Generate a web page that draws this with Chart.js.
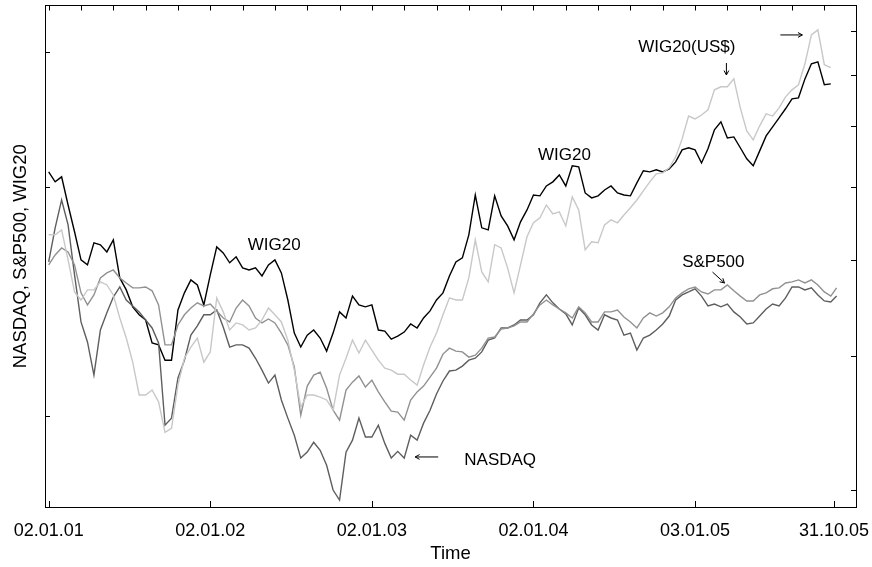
<!DOCTYPE html>
<html>
<head>
<meta charset="utf-8">
<script src="https://cdn.jsdelivr.net/npm/chart.js@4.4.1/dist/chart.umd.min.js"></script>
<style>
html,body{margin:0;padding:0;background:#fff;}
#c{display:block;}
</style>
</head>
<body>
<canvas id="c" width="872" height="567"></canvas>
<script>
// trading-day index of each sample (day 0 = 02.01.01)
const days = [0,10,20,30,40,50,60,70,80,90,100,110,120,130,140,150,160,170,180,190,
200,210,220,230,240,250,260,270,280,290,300,310,320,330,340,350,360,370,380,390,
400,410,420,430,440,450,460,470,480,490,500,510,520,530,540,550,560,570,580,590,
600,610,620,630,640,650,660,670,680,690,700,710,720,730,740,750,760,770,780,790,
800,810,820,830,840,850,860,870,880,890,900,910,920,930,940,950,960,970,980,990,
1000,1010,1020,1030,1040,1050,1060,1070,1080,1090,1100,1110,1120,1130,1140,1150,1160,1170,1180,1190,
1200,1210,1219];

const wig20 = [2091,2029,2060,1892,1745,1603,1579,1688,1678,1642,
1703,1518,1464,1391,1358,1337,1247,1240,1184,1184,
1378,1451,1509,1486,1399,1532,1667,1637,1589,1618,
1565,1555,1565,1527,1579,1603,1541,1420,1285,1232,
1277,1297,1266,1217,1285,1370,1345,1437,1399,1391,
1399,1297,1293,1262,1273,1289,1321,1305,1345,1374,
1420,1451,1527,1593,1613,1729,1950,1766,1755,1945,
1831,1776,1703,1798,1864,1950,1945,2004,2029,2072,
2004,2130,2123,1962,1933,1945,1980,2004,1962,1950,
1945,2023,2098,2091,2104,2091,2110,2155,2235,2249,
2235,2148,2242,2374,2432,2317,2324,2249,2175,2130,
2228,2331,2396,2462,2530,2607,2615,2769,2898,2915,
2720,2728];

const wig20usd = [1729,1729,1755,1603,1455,1420,1464,1464,1500,1486,
1442,1345,1266,1177,1066,1066,1082,1044,952,964,
1098,1191,1232,1266,1177,1214,1429,1370,1297,1325,
1317,1297,1305,1337,1386,1358,1329,1258,1149,1028,
1066,1066,1059,1050,1018,1132,1191,1258,1210,1258,
1221,1184,1156,1149,1135,1135,1115,1098,1167,1232,
1285,1358,1429,1420,1420,1518,1703,1546,1500,1678,
1662,1565,1451,1579,1719,1793,1820,1892,1842,1853,
1776,1939,1864,1652,1693,1688,1782,1809,1793,1836,
1876,1921,1974,2029,2079,2085,2117,2188,2310,2475,
2454,2483,2522,2679,2704,2704,2769,2537,2367,2303,
2403,2491,2475,2537,2623,2679,2720,2898,3163,3211,
2890,2864];

const sp500 = [1579,1627,1662,1642,1579,1451,1399,1442,1518,1541,
1555,1518,1495,1473,1473,1477,1460,1399,1240,1240,
1317,1358,1386,1408,1395,1403,1374,1345,1329,1386,
1420,1395,1345,1325,1341,1325,1285,1240,1160,1003,
1095,1132,1142,1088,1018,988,1082,1108,1129,1092,
1115,1076,1044,1015,1012,988,1050,1076,1095,1125,
1156,1206,1228,1217,1214,1195,1202,1228,1266,1270,
1301,1305,1313,1329,1329,1362,1399,1420,1399,1382,
1366,1345,1391,1366,1329,1329,1370,1370,1378,1349,
1329,1305,1345,1366,1353,1366,1391,1429,1451,1469,
1477,1455,1446,1464,1464,1486,1460,1437,1416,1416,
1442,1451,1469,1473,1495,1500,1509,1495,1509,1486,
1455,1437,1473];

const nasdaq = [1593,1766,1921,1782,1532,1329,1251,1132,1297,1366,
1433,1477,1420,1395,1370,1337,1305,1247,973,994,
1122,1184,1277,1313,1358,1358,1378,1309,1232,1240,
1240,1228,1191,1149,1105,1132,1050,994,944,881,
897,924,902,862,800,776,897,930,994,939,
939,973,921,881,899,881,944,930,979,1018,
1069,1112,1146,1149,1163,1184,1191,1214,1258,1266,
1305,1305,1317,1337,1337,1358,1408,1442,1408,1382,
1362,1317,1386,1358,1317,1297,1358,1345,1337,1277,
1285,1221,1266,1277,1297,1321,1353,1420,1442,1455,
1469,1437,1395,1403,1391,1403,1370,1349,1321,1325,
1353,1382,1403,1395,1429,1477,1477,1464,1473,1442,
1416,1412,1437];

// axis ticks
const xTickDays = [0,250,500,750,1000,1215];
const xTickLabels = ['02.01.01','02.01.02','02.01.03','02.01.04','03.01.05','31.10.05'];
const topTickDays = [0,50,100,150,200,250,300,350,400,450,500,550,600,650,700,750,800,850,900,950,1000,1050,1100,1150,1200];
const yLeftTicks = [1000,2000,3000];
const yRightTicks = [800,1200,1600,2000,2400,2800,3200];

// annotations (in data units)
const notes = [
  {text:'WIG20', day:308, value:1676},
  {text:'WIG20', day:757, value:2200},
  {text:'WIG20(US$)', day:912, value:3049},
  {text:'S&P500', day:980, value:1593},
  {text:'NASDAQ', day:643, value:876}
];
const arrows = [
  {from:[1048.5,2905], to:[1048.5,2802]},
  {from:[1132,3162], to:[1166,3162]},
  {from:[1027,1545], to:[1045.5,1495]},
  {from:[602.6,884], to:[567,884]}
];

const FONT = '"Liberation Sans", Arial, Helvetica, sans-serif';
const X_MIN = -5.7, X_MAX = 1249, Y_MIN = 760, Y_MAX = 3456;

function pts(vals){ return vals.map((v,i)=>({x:days[i], y:v})); }

const inwardTicks = {
  id:'inwardTicks',
  afterDraw(chart){
    const ctx = chart.ctx, a = chart.chartArea;
    ctx.save();
    ctx.strokeStyle = '#000';
    ctx.lineWidth = 1;
    const sx = chart.scales.x, st = chart.scales.xTop, sy = chart.scales.y, sy2 = chart.scales.y2;
    ctx.beginPath();
    sx.ticks.forEach(t=>{ const p = Math.round(sx.getPixelForValue(t.value))+0.5; ctx.moveTo(p, a.bottom); ctx.lineTo(p, a.bottom-6); });
    st.ticks.forEach(t=>{ const p = Math.round(st.getPixelForValue(t.value))+0.5; ctx.moveTo(p, a.top); ctx.lineTo(p, a.top+5); });
    sy.ticks.forEach(t=>{ const p = Math.round(sy.getPixelForValue(t.value))+0.5; ctx.moveTo(a.left, p); ctx.lineTo(a.left+5, p); });
    sy2.ticks.forEach(t=>{ const p = Math.round(sy2.getPixelForValue(t.value))+0.5; ctx.moveTo(a.right, p); ctx.lineTo(a.right-5, p); });
    ctx.stroke();
    ctx.restore();
  }
};

const labelsPlugin = {
  id:'labelsPlugin',
  afterDatasetsDraw(chart){
    const ctx = chart.ctx, sx = chart.scales.x, sy = chart.scales.y;
    ctx.save();
    ctx.fillStyle = '#000';
    ctx.font = '17px ' + FONT;
    ctx.textAlign = 'left';
    ctx.textBaseline = 'middle';
    notes.forEach(n=>{ ctx.fillText(n.text, sx.getPixelForValue(n.day), sy.getPixelForValue(n.value)); });
    ctx.strokeStyle = '#000';
    ctx.lineWidth = 1;
    arrows.forEach(ar=>{
      const x1 = sx.getPixelForValue(ar.from[0]), y1 = sy.getPixelForValue(ar.from[1]);
      const x2 = sx.getPixelForValue(ar.to[0]), y2 = sy.getPixelForValue(ar.to[1]);
      const ang = Math.atan2(y2-y1, x2-x1), h = 5;
      ctx.beginPath();
      ctx.moveTo(x1,y1); ctx.lineTo(x2,y2);
      ctx.moveTo(x2 - h*Math.cos(ang-0.5), y2 - h*Math.sin(ang-0.5));
      ctx.lineTo(x2,y2);
      ctx.lineTo(x2 - h*Math.cos(ang+0.5), y2 - h*Math.sin(ang+0.5));
      ctx.stroke();
    });
    ctx.restore();
  }
};

const lineDs = (label, vals, color) => ({
  label, data: pts(vals), borderColor: color, backgroundColor: color,
  borderWidth: 1.4, pointRadius: 0, tension: 0, fill: false,
  xAxisID: 'x', yAxisID: 'y'
});

const noGrid = {display:true, drawOnChartArea:false, drawTicks:false};
const border = {display:true, color:'#000', width:1};
const noPad = s => { s.paddingLeft = 0; s.paddingRight = 0; s.paddingTop = 0; s.paddingBottom = 0; };

new Chart(document.getElementById('c'), {
  type: 'line',
  data: {
    datasets: [
      lineDs('WIG20(US$)', wig20usd, '#c8c8c8'),
      lineDs('S&P500', sp500, '#919191'),
      lineDs('NASDAQ', nasdaq, '#5e5e5e'),
      lineDs('WIG20', wig20, '#000000')
    ]
  },
  options: {
    responsive: false,
    animation: false,
    layout: {padding: 0},
    plugins: {legend:{display:false}, tooltip:{enabled:false}},
    scales: {
      x: {
        type:'linear', position:'bottom', min:X_MIN, max:X_MAX,
        afterBuildTicks: s => { s.ticks = xTickDays.map(v=>({value:v})); },
        ticks: {
          autoSkip:false, maxRotation:0, padding:13, color:'#000',
          font:{family:FONT, size:18},
          callback: (v) => { const i = xTickDays.indexOf(v); return i >= 0 ? xTickLabels[i] : ''; }
        },
        grid: noGrid, border: border,
        title: {display:true, text:'Time', color:'#000', font:{family:FONT, size:18.5}, padding:{top:0, bottom:2}},
        afterFit: s => { s.height = 60; noPad(s); }
      },
      xTop: {
        type:'linear', position:'top', min:X_MIN, max:X_MAX,
        afterBuildTicks: s => { s.ticks = topTickDays.map(v=>({value:v})); },
        ticks: {display:false},
        grid: noGrid, border: border,
        afterFit: s => { s.height = 5.5; noPad(s); }
      },
      y: {
        type:'logarithmic', position:'left', min:Y_MIN, max:Y_MAX,
        afterBuildTicks: s => { s.ticks = yLeftTicks.map(v=>({value:v})); },
        ticks: {display:false},
        grid: noGrid, border: border,
        title: {display:true, text:'NASDAQ, S&P500, WIG20', color:'#000', font:{family:FONT, size:18.5}, padding:{top:10, bottom:0}},
        afterFit: s => { s.width = 45; noPad(s); }
      },
      y2: {
        type:'logarithmic', position:'right', min:Y_MIN, max:Y_MAX,
        afterBuildTicks: s => { s.ticks = yRightTicks.map(v=>({value:v})); },
        ticks: {display:false},
        grid: noGrid, border: border,
        afterFit: s => { s.width = 16; noPad(s); }
      }
    }
  },
  plugins: [inwardTicks, labelsPlugin]
});
</script>
</body>
</html>
